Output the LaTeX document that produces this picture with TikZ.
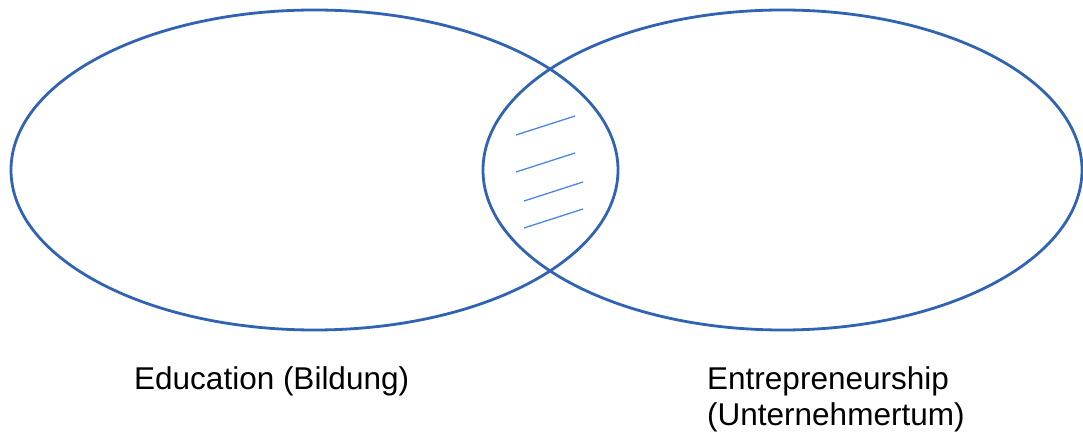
\documentclass[tikz,border=0pt]{standalone}
\usepackage{fontspec}
\setmainfont{Liberation Sans}
\definecolor{ringblue}{HTML}{3063B2}
\definecolor{hatchblue}{HTML}{4A86E8}
\begin{document}
\begin{tikzpicture}[x=1pt,y=-1pt,
  ring/.style={draw=ringblue,line width=2.8pt},
  hatch/.style={draw=hatchblue,line width=1.3pt},
  label/.style={inner sep=0pt,anchor=base west,font=\fontsize{31.5}{36}\selectfont}]
\useasboundingbox (0,0) rectangle (1083,435);
\draw[ring] (314.5,170) ellipse [x radius=303.5, y radius=160];
\draw[ring] (782.5,170) ellipse [x radius=299.5, y radius=160];
\coordinate (h1a) at (516,135); \coordinate (h1b) at (575,116);
\coordinate (h2a) at (516,172); \coordinate (h2b) at (575,153);
\coordinate (h3a) at (524,201); \coordinate (h3b) at (583,182);
\coordinate (h4a) at (524,228); \coordinate (h4b) at (583,209);
\draw[hatch] (h1a) -- (h1b);
\draw[hatch] (h2a) -- (h2b);
\draw[hatch] (h3a) -- (h3b);
\draw[hatch] (h4a) -- (h4b);
\node[label] (edu) at (134,389) {Education (Bildung)};
\node[label] (ent1) at (707,389) {Entrepreneurship};
\node[label] (ent2) at (707,425) {(Unternehmertum)};
\end{tikzpicture}
\end{document}
